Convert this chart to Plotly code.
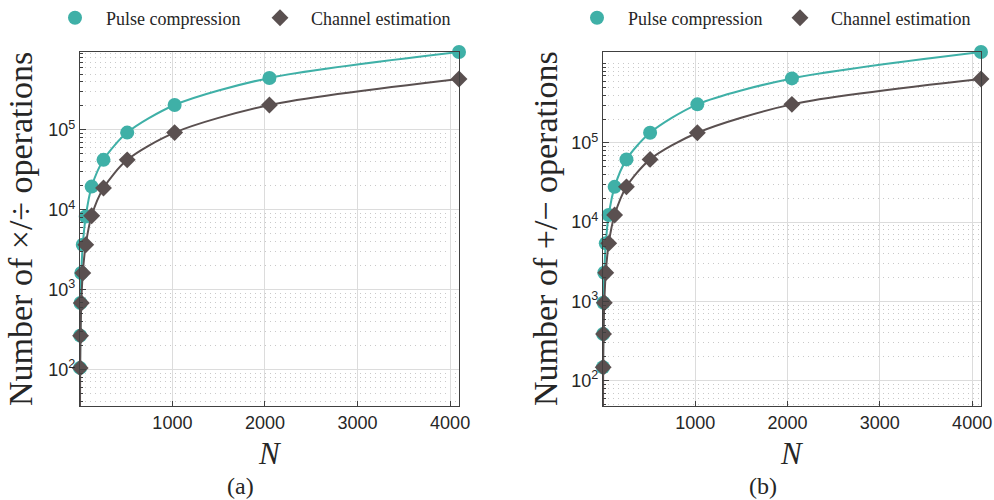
import math
import plotly.graph_objects as go

# ---------------- data ----------------
N = [2, 4, 8, 16, 32, 64, 128, 256, 512, 1024, 2048, 4096]

mul_pulse = [105, 266, 682, 1618, 3651, 8240, 19500, 42200, 92500, 205000, 447000, 944000]
mul_chan = [35, 105, 266, 682, 1618, 3651, 8414, 18700, 42200, 92500, 205000, 434000]

add_pulse = [148, 388, 963, 2300, 5400, 12300, 27900, 61900, 134000, 306000, 650000, 1400000]
add_chan = [48, 148, 388, 963, 2300, 5400, 12300, 27900, 61900, 134000, 306000, 638000]

x_ticks = [1000, 2000, 3000, 4000]
y_tickvals = [1e2, 1e3, 1e4, 1e5]
y_ticktext = ["10<sup>2</sup>", "10<sup>3</sup>", "10<sup>4</sup>", "10<sup>5</sup>"]

series_names = ["Pulse compression", "Channel estimation"]
ylabels = ["Number of \u00d7/\u00f7 operations", "Number of +/\u2212 operations"]
panel_labels = ["(a)", "(b)"]

# ---------------- styling ----------------
W, H = 994, 500
TEAL = "#3FB0A7"
DARK = "#5A5050"
SERIF = "Liberation Serif, Times New Roman, serif"
SANS = "Liberation Sans, Arial, sans-serif"
TXT = "#262626"

panels = [
    dict(x0=80, x1=459, pulse=mul_pulse, chan=mul_chan),
    dict(x0=603, x1=981, pulse=add_pulse, chan=add_chan),
]
y_top, y_bot = 52, 406

minor_vals = [d * 10 ** k for k in range(1, 7) for d in range(2, 10)] + [1e6]

fig = go.Figure()

for i, p in enumerate(panels):
    xa = "x" if i == 0 else "x2"
    ya = "y" if i == 0 else "y2"
    leg = "legend" if i == 0 else "legend2"
    fig.add_trace(go.Scatter(
        x=N, y=p["pulse"], mode="lines+markers", xaxis=xa, yaxis=ya,
        line=dict(color=TEAL, width=2, shape="spline", smoothing=0.8),
        marker=dict(symbol="circle", size=14, color=TEAL),
        cliponaxis=False, showlegend=False))
    fig.add_trace(go.Scatter(
        x=N, y=p["chan"], mode="lines+markers", xaxis=xa, yaxis=ya,
        line=dict(color=DARK, width=2, shape="spline", smoothing=0.8),
        marker=dict(symbol="diamond", size=13, color=DARK),
        cliponaxis=False, showlegend=False))
    # legend-only entries (markers only, as in the reference)
    fig.add_trace(go.Scatter(x=[None], y=[None], mode="markers", xaxis=xa, yaxis=ya,
                             marker=dict(symbol="circle", size=14, color=TEAL),
                             name=series_names[0], legend=leg))
    fig.add_trace(go.Scatter(x=[None], y=[None], mode="markers", xaxis=xa, yaxis=ya,
                             marker=dict(symbol="diamond", size=13, color=DARK),
                             name=series_names[1], legend=leg))

    ymin = min(p["chan"] + p["pulse"])
    ymax = max(p["chan"] + p["pulse"])
    xkey = "xaxis" if i == 0 else "xaxis2"
    ykey = "yaxis" if i == 0 else "yaxis2"
    fig.layout[xkey] = dict(
        domain=[p["x0"] / W, p["x1"] / W], anchor=ya,
        range=[min(N), max(N)], tickvals=x_ticks, automargin=False,
        showgrid=True, gridcolor="#dcdcdc", gridwidth=1,
        zeroline=False, showline=True, linecolor="#404040", linewidth=1.2, mirror=True,
        ticks="inside", ticklen=5, tickcolor="#404040",
        tickfont=dict(family=SANS, size=18, color=TXT))
    fig.layout[ykey] = dict(
        domain=[1 - y_bot / H, 1 - y_top / H], anchor=xa, type="log",
        range=[math.log10(ymin), math.log10(ymax)], automargin=False,
        tickvals=y_tickvals, ticktext=y_ticktext,
        showgrid=True, gridcolor="#dcdcdc", gridwidth=1,
        zeroline=False, showline=True, linecolor="#404040", linewidth=1.2, mirror=True,
        ticks="inside", ticklen=6, tickcolor="#404040",
        tickfont=dict(family=SANS, size=18, color=TXT),
        minor=dict(tickmode="array", tickvals=minor_vals, ticks="inside", ticklen=3,
                   tickcolor="#404040", showgrid=True, gridcolor="#c9c9c9",
                   griddash="1px,4px", gridwidth=1))

    xc = (p["x0"] + p["x1"]) / 2
    ylab_x = 21 if i == 0 else 546
    fig.add_annotation(text=ylabels[i], xref="paper", yref="paper",
                       x=ylab_x / W, y=1 - (y_top + y_bot) / 2 / H, textangle=-90,
                       showarrow=False, xanchor="center", yanchor="middle",
                       font=dict(family=SERIF, size=34, color=TXT))
    fig.add_annotation(text="<i>N</i>", xref="paper", yref="paper",
                       x=xc / W, y=1 - 453 / H, showarrow=False,
                       xanchor="center", yanchor="middle",
                       font=dict(family=SERIF, size=31, color=TXT))
    fig.add_annotation(text=panel_labels[i], xref="paper", yref="paper",
                       x=(xc - 29) / W, y=1 - 486 / H, showarrow=False,
                       xanchor="center", yanchor="middle",
                       font=dict(family=SERIF, size=24, color=TXT))

legend_common = dict(orientation="h", yanchor="middle", y=1 - 18 / H, xanchor="left",
                     font=dict(family=SERIF, size=18, color=TXT), itemwidth=52,
                     entrywidthmode="pixels", bgcolor="rgba(0,0,0,0)")
fig.update_layout(
    width=W, height=H, margin=dict(l=0, r=0, t=0, b=0, autoexpand=False),
    paper_bgcolor="white", plot_bgcolor="white",
    legend=dict(legend_common, x=44 / W, entrywidth=138),
    legend2=dict(legend_common, x=566 / W, entrywidth=136),
)

fig.write_html("out.html")
